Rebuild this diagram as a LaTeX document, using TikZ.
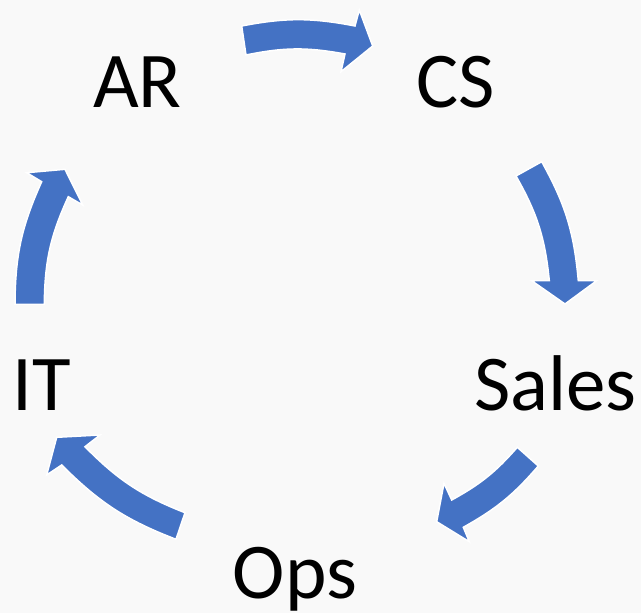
\documentclass[tikz,border=0pt]{standalone}
\usepackage{fontspec}
\setmainfont{Carlito}
\definecolor{arrowblue}{HTML}{4472C4}
\definecolor{pagebg}{HTML}{F9F9F9}
\begin{document}
\begin{tikzpicture}[x=1pt,y=-1pt,
  steplabel/.style={font=\fontsize{79}{84}\selectfont, inner sep=0pt, anchor=base, text=black},
  cyclearrow/.style={fill=arrowblue, draw=white, line width=1.5pt, line join=miter}]
% page
\fill[pagebg] (0,0) rectangle (641,613);
\useasboundingbox (0,0) rectangle (641,613);

% the five steps of the cycle
\node[steplabel] (ar)    at (137.5,107) {AR};
\node[steplabel] (cs)    at (456,107)   {CS};
\node[steplabel] (sales) at (555.5,410.5) {Sales};
\node[steplabel] (ops)   at (295,598)   {Ops};
\node[steplabel] (it)    at (41.5,410.5) {IT};

% curved block arrows, clockwise: outer edge, head, inner edge
% AR -> CS
\draw[cyclearrow] (241.7,26) to[bend left=11] (355,26) -- (359.3,10) -- (372.7,46)
  -- (341,71.7) -- (345,54) to[bend right=11] (246,55) -- cycle;
% CS -> Sales
\draw[cyclearrow] (541.7,161.7) to[bend left=12] (578.3,280.7) -- (596.7,280.7) -- (565,304)
  -- (531.7,280.7) -- (549.3,280.7) to[bend right=12] (516,176) -- cycle;
% Sales -> Ops
\draw[cyclearrow] (538.3,466) to[bend left=10] (463.3,527.3) -- (469.3,541.7) -- (436.7,521.7)
  -- (444,483.3) -- (451.7,500) to[bend right=10] (517.3,447.3) -- cycle;
% Ops -> IT
\draw[cyclearrow] (176,539.3) to[bend left=12] (61.7,465) -- (46.7,475) -- (56.7,437.3)
  -- (100,435) -- (85,446.7) to[bend right=12] (185,512.7) -- cycle;
% IT -> AR
\draw[cyclearrow] (15,304.3) to[bend left=12] (41.7,181.7) -- (26.7,172.7) -- (65,169.3)
  -- (82.7,205) -- (68.3,196.7) to[bend right=12] (44.3,304.3) -- cycle;
\end{tikzpicture}
\end{document}
